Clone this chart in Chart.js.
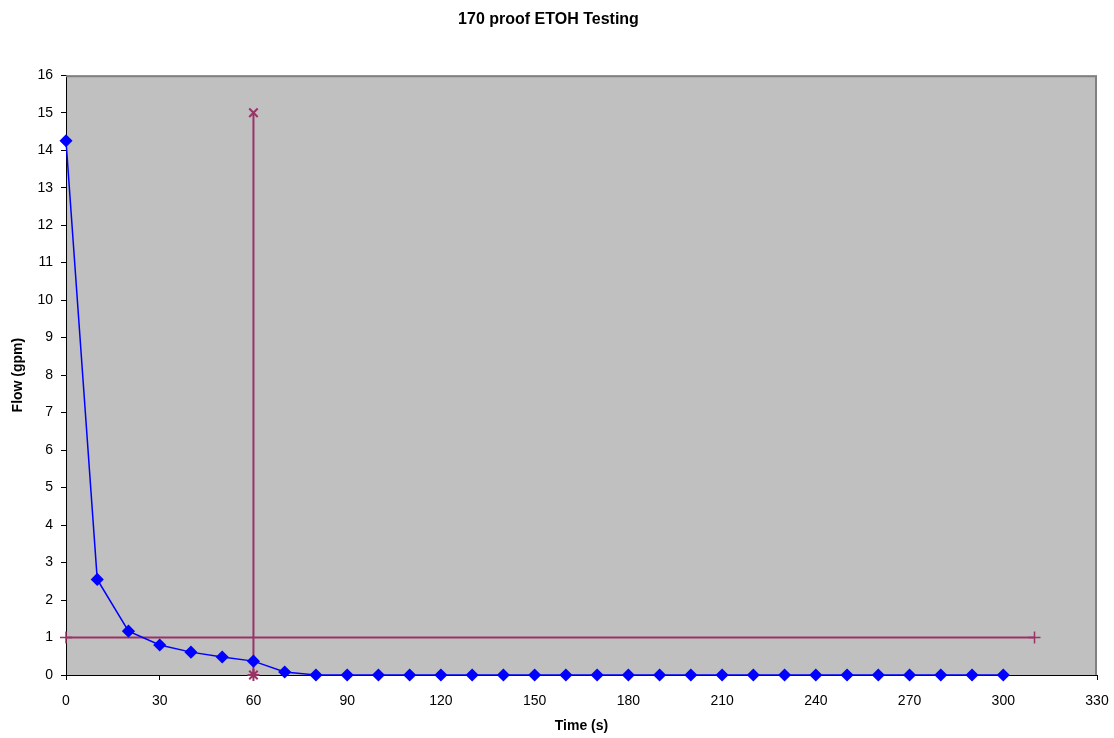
<!DOCTYPE html>
<html>
<head>
<meta charset="utf-8">
<script src="https://cdn.jsdelivr.net/npm/chart.js@4.4.0/dist/chart.umd.min.js"></script>
<style>
  html, body { margin: 0; padding: 0; background: #fff; }
  #wrap { width: 1114px; height: 738px; }
</style>
</head>
<body>
<div id="wrap"><canvas id="canvas1" width="1114" height="738"></canvas></div>
<script>
// data
const times = [0, 10, 20, 30, 40, 50, 60, 70, 80, 90, 100, 110, 120, 130, 140, 150,
  160, 170, 180, 190, 200, 210, 220, 230, 240, 250, 260, 270, 280, 290, 300];
const flow = [14.25, 2.55, 1.17, 0.8, 0.61, 0.48, 0.37, 0.08, 0, 0, 0, 0, 0, 0, 0, 0,
  0, 0, 0, 0, 0, 0, 0, 0, 0, 0, 0, 0, 0, 0, 0];
// limit lines
const limitX = [0, 310];
const limitY = [1, 1];
const markX = [60, 60];
const markY = [0, 15];

function toPoints(xs, ys) {
  let pts = [];
  for (let i = 0; i < xs.length; i++) {
    pts.push({ x: xs[i], y: ys[i] });
  }
  return pts;
}

const plum = '#993366';
Chart.defaults.font.family = '"Liberation Sans", Arial, sans-serif';
Chart.defaults.color = '#000';

// grey plot area + grey frame on top/right
const plotBg = {
  id: 'plotBg',
  beforeDraw(chart) {
    const a = chart.chartArea, ctx = chart.ctx;
    ctx.save();
    ctx.fillStyle = '#c0c0c0';
    ctx.fillRect(a.left, a.top, a.right - a.left, a.bottom - a.top);
    ctx.restore();
  },
  beforeDatasetsDraw(chart) {
    const a = chart.chartArea, ctx = chart.ctx;
    ctx.save();
    ctx.strokeStyle = '#808080';
    ctx.lineWidth = 2;
    ctx.beginPath();
    ctx.moveTo(a.left, a.top + 1);
    ctx.lineTo(a.right - 1, a.top + 1);
    ctx.lineTo(a.right - 1, a.bottom);
    ctx.stroke();
    ctx.restore();
  }
};

new Chart(document.getElementById('canvas1'), {
  type: 'scatter',
  data: {
    datasets: [{
      label: 'Flow',
      data: toPoints(times, flow),
      showLine: true,
      borderColor: '#0000ff',
      backgroundColor: '#0000ff',
      borderWidth: 1.5,
      pointStyle: 'rectRot',
      pointRadius: 5.5,
      pointHoverRadius: 5.5,
      clip: false
    }, {
      label: 'Limit',
      data: toPoints(limitX, limitY),
      showLine: true,
      borderColor: plum,
      backgroundColor: plum,
      borderWidth: 2,
      pointStyle: 'cross',
      pointRadius: 6,
      pointBorderWidth: 1.5,
      clip: false
    }, {
      label: '60 s',
      data: toPoints(markX, markY),
      showLine: true,
      borderColor: plum,
      backgroundColor: plum,
      borderWidth: 2,
      pointStyle: ['star', 'crossRot'],
      pointRadius: 6,
      pointBorderWidth: 2,
      clip: false
    }]
  },
  options: {
    responsive: false,
    animation: false,
    events: [],
    layout: { padding: { left: 0, right: 17, top: 0, bottom: 0 } },
    plugins: {
      legend: { display: false },
      tooltip: { enabled: false },
      title: {
        display: true,
        text: '170 proof ETOH Testing',
        font: { size: 16, weight: 'bold' },
        padding: { top: 10, bottom: 46 }
      }
    },
    scales: {
      x: {
        type: 'linear',
        min: 0,
        max: 330,
        ticks: { stepSize: 30, padding: 13, font: { size: 14 }, maxRotation: 0 },
        grid: { drawOnChartArea: false, tickLength: 5, color: '#000' },
        border: { color: '#000', width: 1 },
        title: { display: true, text: 'Time (s)', font: { size: 14, weight: 'bold' }, padding: { top: 4, bottom: 3 } },
        afterFit(scale) {
          scale.height = 63;
          scale.paddingLeft = 0;
          scale.paddingRight = 0;
        }
      },
      y: {
        min: 0,
        max: 16,
        ticks: { stepSize: 1, padding: 8, font: { size: 14 } },
        grid: { drawOnChartArea: false, tickLength: 5, color: '#000' },
        border: { color: '#000', width: 1 },
        title: { display: true, text: 'Flow (gpm)', font: { size: 14, weight: 'bold' }, padding: { top: 10, bottom: 0 } },
        afterFit(scale) { scale.width = 66; }
      }
    }
  },
  plugins: [plotBg]
});
</script>
</body>
</html>
